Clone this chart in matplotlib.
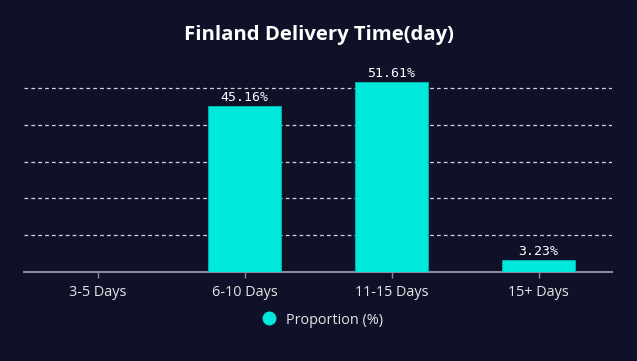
import matplotlib.pyplot as plt
import numpy as np

categories = ['3-5 Days', '6-10 Days', '11-15 Days', '15+ Days']
proportion = [0, 45.16, 51.61, 3.23]
labels = ['', '45.16%', '51.61%', '3.23%']

bg = '#0f1128'
bar_color = '#00e8dc'

fig = plt.figure(figsize=(6.37, 3.61), dpi=100, facecolor=bg)
ax = fig.add_axes([24 / 637, 1 - 272 / 361, 588 / 637, (272 - 69.6) / 361])
ax.set_facecolor(bg)

x = np.arange(len(categories))
bars = ax.bar(x, proportion, width=0.5, color=bar_color, edgecolor='#00b8b0',
              linewidth=0.6, zorder=3, label='Proportion (%)')
for xi, v, lab in zip(x, proportion, labels):
    if lab:
        ax.text(xi, v + 0.6, lab, ha='center', va='bottom', color='white',
                fontsize=9.5, family='DejaVu Sans Mono')

ax.set_xlim(-0.5, 3.5)
ax.set_ylim(0, 55)
ax.set_yticks([10, 20, 30, 40, 50])
ax.yaxis.grid(True, linestyle=(0, (3, 2.5)), color='#cfd2d8', linewidth=0.9, zorder=0)
ax.tick_params(axis='y', left=False, labelleft=False)
ax.set_xticks(x)
ax.set_xticklabels(categories, color='#e6e6e6', fontsize=10.4, family='Open Sans')
ax.tick_params(axis='x', color='#8a8d99', length=4, width=1, pad=5)
for s in ['top', 'right', 'left']:
    ax.spines[s].set_visible(False)
ax.spines['bottom'].set_color('#8a8d99')
ax.spines['bottom'].set_linewidth(1.5)

fig.text(0.5, 1 - 35 / 361, 'Finland Delivery Time(day)', ha='center', va='center',
         color='white', fontsize=14.6, fontweight='bold', family='Open Sans')

leg = fig.legend(handles=[plt.Line2D([], [], marker='o', linestyle='', color=bar_color,
                                     markersize=9)],
                 labels=['Proportion (%)'], loc='center', bbox_to_anchor=(0.5, 1 - 320 / 361),
                 frameon=False, handletextpad=0.2, prop={'family': 'Open Sans', 'size': 10.4})
for t in leg.get_texts():
    t.set_color('#e6e6e6')

fig.savefig('out.png', facecolor=bg)
